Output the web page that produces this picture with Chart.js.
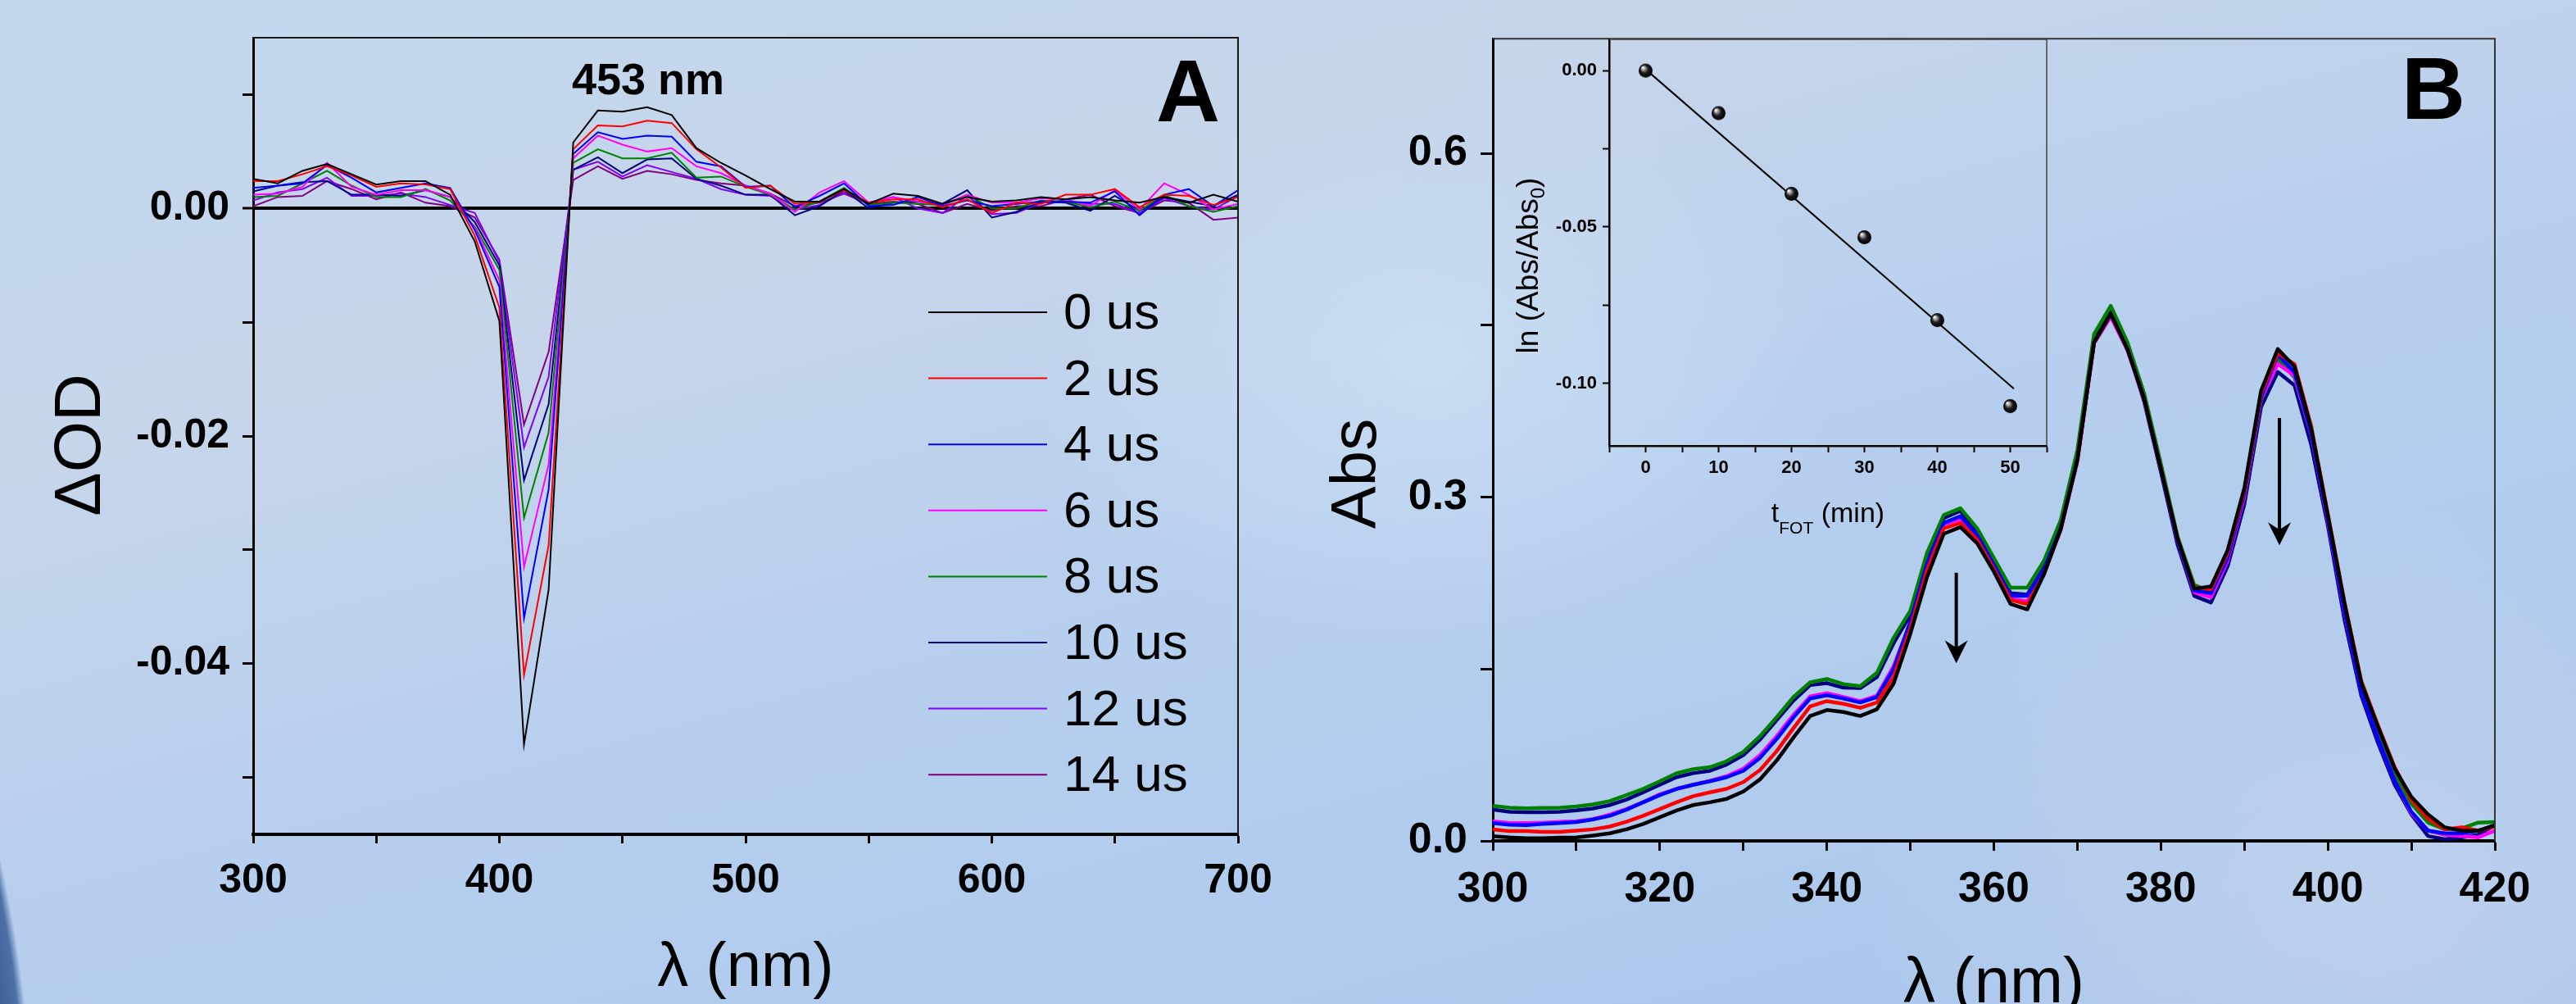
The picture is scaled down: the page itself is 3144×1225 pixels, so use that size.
<!DOCTYPE html>
<html>
<head>
<meta charset="utf-8">
<title>Transient absorption and photolysis spectra</title>
<script src="https://cdn.jsdelivr.net/npm/chart.js@4.4.1/dist/chart.umd.min.js"></script>
<style>
    html, body { margin: 0; padding: 0; }
    body {
        width: 3144px; height: 1225px; overflow: hidden; position: relative;
        background:
            radial-gradient(ellipse 700px 500px at 1750px 450px, rgba(210, 230, 248, 0.55), rgba(210, 230, 248, 0) 70%),
            radial-gradient(ellipse 900px 700px at 2900px 1100px, rgba(200, 214, 236, 0.6), rgba(200, 214, 236, 0) 70%),
            linear-gradient(165deg, #c2d8ef 0%, #c6d5ea 28%, #b6cfee 55%, #a8c6ec 100%);
    }
    /* dark curved edge in the lower left corner of the backdrop */
    .arc {
        position: absolute; left: -3160px; top: -200px; width: 3200px; height: 3200px;
        border-radius: 50%;
        background: radial-gradient(circle closest-side, #2f5288 97%, #4d70a6 99.4%, rgba(77, 112, 166, 0) 100%);
        clip-path: inset(1240px 0 0 0);
    }
    canvas { position: absolute; }
    #chartA { left: 0; top: 0; }
    #chartB { left: 1570px; top: 0; }
    #inset { left: 1830px; top: 20px; }
</style>
</head>
<body>
<div class="arc"></div>
<canvas id="chartA" width="1570" height="1225"></canvas>
<canvas id="chartB" width="1574" height="1225"></canvas>
<canvas id="inset" width="700" height="680"></canvas>
<script>
// ---- Panel A: transient absorption (delta OD), every 10 nm from 300 to 700 ----
const range = (a, b, step) => { const r = []; for (let v = a; v <= b + 1e-9; v += step) r.push(v); return r; };
const wavelengthA = range(300, 700, 10);
const timeLabels = ['0 us', '2 us', '4 us', '6 us', '8 us', '10 us', '12 us', '14 us'];
const colorsA = ['#000000', '#ff0000', '#0000ff', '#ff00ff', '#008000', '#000080', '#8000ff', '#800080'];

const od0 = [0.0026, 0.0022, 0.0033, 0.0039, 0.0030, 0.0021, 0.0024, 0.0024, 0.0012, -0.0029, -0.0099, -0.0471, -0.0335, 0.0058, 0.0086, 0.0085, 0.0089, 0.0082, 0.0053, 0.0040, 0.0029, 0.0017, 0.0006, 0.0006, 0.0017, 0.0004, 0.0013, 0.0011, 0.0004, 0.0010, 0.0006, 0.0007, 0.0010, 0.0008, 0.0010, 0.0007, 0.0005, 0.0010, 0.0005, 0.0012, 0.0006];
const od2 = [0.0024, 0.0024, 0.0030, 0.0037, 0.0029, 0.0019, 0.0022, 0.0021, 0.0017, -0.0024, -0.0087, -0.0410, -0.0296, 0.0052, 0.0073, 0.0072, 0.0077, 0.0075, 0.0052, 0.0036, 0.0018, 0.0020, 0.0004, 0.0006, 0.0016, 0.0005, 0.0008, 0.0008, 0.0001, 0.0008, -0.0004, 0.0005, 0.0004, 0.0012, 0.0012, 0.0017, 0.0001, 0.0012, 0.0011, 0.0003, 0.0010];
const od4 = [0.0018, 0.0020, 0.0022, 0.0038, 0.0027, 0.0014, 0.0018, 0.0022, 0.0018, -0.0019, -0.0069, -0.0360, -0.0247, 0.0048, 0.0067, 0.0061, 0.0064, 0.0063, 0.0041, 0.0037, 0.0019, 0.0020, 0.0001, 0.0011, 0.0022, 0.0002, 0.0003, 0.0010, 0.0002, 0.0007, 0.0002, 0.0004, 0.0006, 0.0006, 0.0005, 0.0015, -0.0006, 0.0012, 0.0017, 0.0002, 0.0016];
const od6 = [0.0012, 0.0013, 0.0019, 0.0040, 0.0019, 0.0012, 0.0016, 0.0016, 0.0010, -0.0017, -0.0063, -0.0315, -0.0225, 0.0044, 0.0064, 0.0056, 0.0050, 0.0053, 0.0037, 0.0031, 0.0020, 0.0013, -0.0003, 0.0014, 0.0024, 0.0005, 0.0010, 0.0006, 0.0003, 0.0012, 0.0005, 0.0005, 0.0009, 0.0008, 0.0002, 0.0016, -0.0001, 0.0022, 0.0012, -0.0001, 0.0004];
const od8 = [0.0010, 0.0011, 0.0022, 0.0033, 0.0020, 0.0010, 0.0010, 0.0017, 0.0007, -0.0016, -0.0054, -0.0272, -0.0197, 0.0040, 0.0052, 0.0044, 0.0044, 0.0049, 0.0027, 0.0028, 0.0019, 0.0012, -0.0001, 0.0006, 0.0018, 0.0003, 0.0005, 0.0004, 0.0003, 0.0012, 0.0000, 0.0000, 0.0007, 0.0006, 0.0001, 0.0006, -0.0002, 0.0012, 0.0002, -0.0003, 0.0002];
const od10 = [0.0015, 0.0020, 0.0023, 0.0024, 0.0012, 0.0012, 0.0011, 0.0016, 0.0010, -0.0012, -0.0050, -0.0239, -0.0172, 0.0034, 0.0045, 0.0031, 0.0043, 0.0044, 0.0026, 0.0020, 0.0012, 0.0012, -0.0006, 0.0002, 0.0016, 0.0000, 0.0005, 0.0006, 0.0004, 0.0016, -0.0008, -0.0003, 0.0006, 0.0005, -0.0002, 0.0011, -0.0002, 0.0010, 0.0006, 0.0002, 0.0012];
const od12 = [0.0007, 0.0014, 0.0017, 0.0027, 0.0011, 0.0011, 0.0013, 0.0010, 0.0003, -0.0004, -0.0047, -0.0210, -0.0148, 0.0034, 0.0041, 0.0028, 0.0038, 0.0032, 0.0026, 0.0017, 0.0012, 0.0011, -0.0001, 0.0003, 0.0014, 0.0005, 0.0010, 0.0000, -0.0004, 0.0011, -0.0005, -0.0004, 0.0005, 0.0006, 0.0004, 0.0004, -0.0004, 0.0009, 0.0002, -0.0001, 0.0011];
const od14 = [0.0002, 0.0010, 0.0011, 0.0024, 0.0017, 0.0008, 0.0014, 0.0005, 0.0002, -0.0008, -0.0045, -0.0190, -0.0126, 0.0025, 0.0037, 0.0026, 0.0033, 0.0030, 0.0025, 0.0022, 0.0020, 0.0013, 0.0002, 0.0005, 0.0013, 0.0004, 0.0006, 0.0004, -0.0004, 0.0004, -0.0002, 0.0002, 0.0002, 0.0008, 0.0012, 0.0002, -0.0004, 0.0007, 0.0005, -0.0010, -0.0008];
const seriesA = [od0, od2, od4, od6, od8, od10, od12, od14];

const ticksAx = [300, 350, 400, 450, 500, 550, 600, 650, 700];
const ticksAy = [-0.05, -0.04, -0.03, -0.02, -0.01, 0, 0.01];
const labelsAy = { '-0.04': '-0.04', '-0.02': '-0.02', '0': '0.00' };

// ---- Panel B: absorption spectra, every 2 nm from 300 to 420 ----
const wavelengthB = range(300, 420, 2);
const colorsB = ['#000000', '#ff0000', '#0000ff', '#ff00ff', '#008000', '#000080'];
const absBlack = [0.0042, 0.0031, 0.0024, 0.0024, 0.0028, 0.0031, 0.0047, 0.0066, 0.0101, 0.0148, 0.0207, 0.0266, 0.0313, 0.0337, 0.0367, 0.0431, 0.0537, 0.0702, 0.0902, 0.1090, 0.1142, 0.1125, 0.1090, 0.1149, 0.1373, 0.1808, 0.2303, 0.2680, 0.2738, 0.2597, 0.2350, 0.2067, 0.2020, 0.2326, 0.2720, 0.3320, 0.4350, 0.4598, 0.4290, 0.3857, 0.3245, 0.2640, 0.2200, 0.2220, 0.2538, 0.3080, 0.3928, 0.4292, 0.4139, 0.3600, 0.2840, 0.2070, 0.1380, 0.0996, 0.0631, 0.0384, 0.0231, 0.0118, 0.0089, 0.0089, 0.0137];
const absRed = [0.0101, 0.0085, 0.0085, 0.0078, 0.0078, 0.0089, 0.0101, 0.0125, 0.0167, 0.0219, 0.0278, 0.0337, 0.0391, 0.0424, 0.0454, 0.0513, 0.0619, 0.0784, 0.0984, 0.1173, 0.1220, 0.1196, 0.1161, 0.1208, 0.1432, 0.1855, 0.2362, 0.2727, 0.2774, 0.2628, 0.2373, 0.2103, 0.2067, 0.2326, 0.2720, 0.3320, 0.4350, 0.4598, 0.4292, 0.3857, 0.3245, 0.2640, 0.2210, 0.2197, 0.2515, 0.3056, 0.3904, 0.4257, 0.4160, 0.3620, 0.2850, 0.2080, 0.1396, 0.1008, 0.0643, 0.0360, 0.0195, 0.0101, 0.0118, 0.0089, 0.0125];
const absBlue = [0.0155, 0.0141, 0.0137, 0.0148, 0.0155, 0.0165, 0.0188, 0.0219, 0.0273, 0.0337, 0.0400, 0.0454, 0.0490, 0.0520, 0.0556, 0.0612, 0.0725, 0.0890, 0.1078, 0.1243, 0.1271, 0.1243, 0.1208, 0.1255, 0.1500, 0.1914, 0.2420, 0.2774, 0.2833, 0.2668, 0.2409, 0.2138, 0.2138, 0.2370, 0.2730, 0.3330, 0.4351, 0.4598, 0.4292, 0.3857, 0.3245, 0.2620, 0.2185, 0.2162, 0.2468, 0.3033, 0.3869, 0.4245, 0.4090, 0.3560, 0.2800, 0.2000, 0.1302, 0.0890, 0.0525, 0.0254, 0.0089, 0.0066, 0.0066, 0.0089, 0.0137];
const absMagenta = [0.0172, 0.0155, 0.0155, 0.0160, 0.0167, 0.0172, 0.0190, 0.0230, 0.0278, 0.0337, 0.0407, 0.0454, 0.0490, 0.0525, 0.0565, 0.0630, 0.0749, 0.0914, 0.1100, 0.1260, 0.1290, 0.1255, 0.1220, 0.1267, 0.1526, 0.1903, 0.2409, 0.2762, 0.2809, 0.2656, 0.2397, 0.2114, 0.2091, 0.2350, 0.2710, 0.3315, 0.4340, 0.4575, 0.4280, 0.3850, 0.3245, 0.2620, 0.2170, 0.2126, 0.2444, 0.3009, 0.3857, 0.4163, 0.4060, 0.3550, 0.2790, 0.1990, 0.1302, 0.0890, 0.0525, 0.0243, 0.0089, 0.0054, 0.0042, 0.0031, 0.0089];
const absGreen = [0.0306, 0.0290, 0.0285, 0.0287, 0.0290, 0.0300, 0.0318, 0.0348, 0.0400, 0.0454, 0.0520, 0.0590, 0.0626, 0.0643, 0.0695, 0.0777, 0.0914, 0.1080, 0.1255, 0.1384, 0.1413, 0.1368, 0.1350, 0.1467, 0.1773, 0.2009, 0.2515, 0.2844, 0.2903, 0.2727, 0.2468, 0.2209, 0.2209, 0.2444, 0.2797, 0.3410, 0.4422, 0.4669, 0.4351, 0.3904, 0.3292, 0.2656, 0.2232, 0.2173, 0.2468, 0.3009, 0.3845, 0.4210, 0.4045, 0.3560, 0.2800, 0.2000, 0.1337, 0.0937, 0.0584, 0.0325, 0.0160, 0.0101, 0.0108, 0.0160, 0.0165];
const absNavy = [0.0273, 0.0254, 0.0250, 0.0250, 0.0254, 0.0266, 0.0283, 0.0313, 0.0360, 0.0424, 0.0490, 0.0556, 0.0591, 0.0612, 0.0666, 0.0749, 0.0885, 0.1055, 0.1224, 0.1360, 0.1377, 0.1337, 0.1333, 0.1430, 0.1726, 0.1973, 0.2479, 0.2816, 0.2880, 0.2703, 0.2444, 0.2162, 0.2150, 0.2385, 0.2750, 0.3362, 0.4375, 0.4622, 0.4304, 0.3833, 0.3221, 0.2585, 0.2138, 0.2080, 0.2397, 0.2938, 0.3786, 0.4092, 0.3975, 0.3457, 0.2750, 0.1926, 0.1267, 0.0855, 0.0490, 0.0231, 0.0042, 0.0014, 0.0031, 0.0054, 0.0137];
const seriesB = [absBlack, absRed, absBlue, absMagenta, absGreen, absNavy];

const ticksBx = [300, 310, 320, 330, 340, 350, 360, 370, 380, 390, 400, 410, 420];
const ticksBy = [0, 0.15, 0.3, 0.45, 0.6];
const labelsBy = { '0': '0.0', '0.3': '0.3', '0.6': '0.6' };

// arrows marking the decrease (wavelength, start Abs, tip Abs)
const arrowX = [355.5, 394.2];
const arrowFrom = [0.234, 0.369];
const arrowTo = [0.155, 0.258];

// ---- Inset: ln(Abs/Abs0) vs irradiation time ----
const tFot = [0, 10, 20, 30, 40, 50];
const lnRatio = [0.0, -0.0136, -0.0394, -0.0533, -0.0798, -0.1073];
const fitX = [0, 50.5];
const fitY = [0.0004, -0.1017];

const ticksIx = [-5, 0, 5, 10, 15, 20, 25, 30, 35, 40, 45, 50, 55];
const labelsIx = { '0': '0', '10': '10', '20': '20', '30': '30', '40': '40', '50': '50' };
const ticksIy = [-0.1, -0.075, -0.05, -0.025, 0];
const labelsIy = { '-0.1': '-0.10', '-0.05': '-0.05', '0': '0.00' };

const FONT = '"Liberation Sans", Arial, Helvetica, sans-serif';
const setTicks = values => scale => { scale.ticks = values.map(v => ({ value: v })); };
const pickLabel = table => v => table[String(v)] || '';

function drawFrame(chart, color, width) {
    const { ctx, chartArea: a } = chart;
    ctx.save();
    ctx.strokeStyle = color;
    ctx.lineWidth = width;
    ctx.beginPath();
    ctx.moveTo(a.left, a.top);
    ctx.lineTo(a.right, a.top);
    ctx.lineTo(a.right, a.bottom);
    ctx.stroke();
    ctx.restore();
}

function rotatedText(ctx, parts, x, y) {
    // parts: [text, font, shift] read bottom-to-top, centred on y, baseline at x
    ctx.save();
    ctx.translate(x, y);
    ctx.rotate(-Math.PI / 2);
    ctx.textBaseline = 'alphabetic';
    ctx.textAlign = 'left';
    let total = 0;
    parts.forEach(p => { ctx.font = p[1]; total += ctx.measureText(p[0]).width; });
    let cx = -total / 2;
    parts.forEach(p => { ctx.font = p[1]; ctx.fillText(p[0], cx, p[2]); cx += ctx.measureText(p[0]).width; });
    ctx.restore();
}

function flatText(ctx, parts, centerX, baseY) {
    ctx.save();
    ctx.textBaseline = 'alphabetic';
    ctx.textAlign = 'left';
    let total = 0;
    parts.forEach(p => { ctx.font = p[1]; total += ctx.measureText(p[0]).width; });
    let cx = centerX - total / 2;
    parts.forEach(p => { ctx.font = p[1]; ctx.fillText(p[0], cx, baseY + p[2]); cx += ctx.measureText(p[0]).width; });
    ctx.restore();
}

// ---------- Panel A ----------
const extrasA = {
    id: 'extrasA',
    afterDraw(chart) {
        const { ctx, chartArea: a } = chart;
        drawFrame(chart, '#1a1a1a', 2);
        ctx.save();
        ctx.fillStyle = '#000';
        // legend
        ctx.font = '62px ' + FONT;
        ctx.textBaseline = 'middle';
        timeLabels.forEach((lab, i) => {
            const y = 381 + i * 80.6;
            ctx.strokeStyle = colorsA[i];
            ctx.lineWidth = 2;
            ctx.beginPath(); ctx.moveTo(1133, y); ctx.lineTo(1278, y); ctx.stroke();
            ctx.fillText(lab, 1298, y + 3);
        });
        ctx.textBaseline = 'alphabetic';
        ctx.font = 'bold 54px ' + FONT;
        ctx.fillText('453 nm', 698, 115);
        ctx.font = 'bold 108px ' + FONT;
        ctx.fillText('A', 1411, 148);
        ctx.restore();
        rotatedText(ctx, [['\u0394OD', '80px ' + FONT, 0]], 122, 543);
        flatText(ctx, [['\u03bb (nm)', '76px ' + FONT, 0]], (a.left + a.right) / 2, 1203);
    }
};

const isZero = c => Math.abs(c.tick.value) < 1e-9;

new Chart(document.getElementById('chartA'), {
    type: 'line',
    data: {
        datasets: seriesA.map((s, i) => ({
            label: timeLabels[i],
            data: wavelengthA.map((x, j) => ({ x: x, y: s[j] })),
            borderColor: colorsA[i],
            borderWidth: 2,
            pointRadius: 0,
            tension: 0,
            fill: false
        }))
    },
    options: {
        responsive: false,
        animation: false,
        devicePixelRatio: 1,
        layout: { padding: { left: 0, right: 59, top: 45, bottom: 0 } },
        plugins: { legend: { display: false }, tooltip: { enabled: false } },
        scales: {
            x: {
                type: 'linear', min: 300, max: 700,
                afterFit: s => { s.height = 207; },
                afterBuildTicks: setTicks(ticksAx),
                ticks: {
                    autoSkip: false, maxRotation: 0, minRotation: 0, padding: 16,
                    color: '#000', font: { family: FONT, size: 50, weight: 'bold' },
                    callback: v => (v % 100 === 0 ? String(v) : '')
                },
                grid: { drawOnChartArea: false, drawTicks: true, tickLength: 11, tickWidth: 3, tickColor: '#000' },
                border: { display: true, color: '#000', width: 4 }
            },
            y: {
                type: 'linear', min: -0.055, max: 0.015,
                afterFit: s => { s.width = 309; },
                afterBuildTicks: setTicks(ticksAy),
                ticks: {
                    autoSkip: false, padding: 16,
                    color: '#000', font: { family: FONT, size: 50, weight: 'bold' },
                    callback: pickLabel(labelsAy)
                },
                grid: {
                    drawOnChartArea: true, drawTicks: true, tickLength: 13, tickWidth: 3, tickColor: '#000',
                    color: c => isZero(c) ? '#000' : 'rgba(0,0,0,0)',
                    lineWidth: c => isZero(c) ? 4 : 1
                },
                border: { display: true, color: '#000', width: 3 }
            }
        }
    },
    plugins: [extrasA]
});

// ---------- Panel B ----------
const extrasB = {
    id: 'extrasB',
    afterDraw(chart) {
        const { ctx, chartArea: a, scales } = chart;
        drawFrame(chart, '#333', 2);
        ctx.save();
        ctx.fillStyle = '#000';
        ctx.strokeStyle = '#000';
        // arrows
        arrowX.forEach((lam, i) => {
            const x = scales.x.getPixelForValue(lam);
            const y1 = scales.y.getPixelForValue(arrowFrom[i]);
            const y2 = scales.y.getPixelForValue(arrowTo[i]);
            ctx.lineWidth = 4;
            ctx.beginPath(); ctx.moveTo(x, y1); ctx.lineTo(x, y2 - 14); ctx.stroke();
            ctx.beginPath();
            ctx.moveTo(x, y2);
            ctx.lineTo(x - 14, y2 - 28);
            ctx.lineTo(x, y2 - 19);
            ctx.lineTo(x + 14, y2 - 28);
            ctx.closePath();
            ctx.fill();
        });
        ctx.font = 'bold 108px ' + FONT;
        ctx.fillText('B', 1361, 145);
        ctx.restore();
        rotatedText(ctx, [['Abs', '78px ' + FONT, 0]], 109, 578);
        flatText(ctx, [['\u03bb (nm)', '78px ' + FONT, 0]], (a.left + a.right) / 2, 1223);
    }
};

new Chart(document.getElementById('chartB'), {
    type: 'line',
    data: {
        datasets: seriesB.map((s, i) => ({
            data: wavelengthB.map((x, j) => ({ x: x, y: s[j] })),
            borderColor: colorsB[i],
            borderWidth: 4.5,
            borderJoinStyle: 'round',
            pointRadius: 0,
            tension: 0,
            fill: false
        }))
    },
    options: {
        responsive: false,
        animation: false,
        devicePixelRatio: 1,
        layout: { padding: { left: 0, right: 99, top: 35, bottom: 0 } },
        plugins: { legend: { display: false }, tooltip: { enabled: false } },
        scales: {
            x: {
                type: 'linear', min: 300, max: 420,
                afterFit: s => { s.height = 199; },
                afterBuildTicks: setTicks(ticksBx),
                ticks: {
                    autoSkip: false, maxRotation: 0, minRotation: 0, padding: 16,
                    color: '#000', font: { family: FONT, size: 52, weight: 'bold' },
                    callback: v => (v % 20 === 0 ? String(v) : '')
                },
                grid: { drawOnChartArea: false, drawTicks: true, tickLength: 12, tickWidth: 3, tickColor: '#000' },
                border: { display: true, color: '#000', width: 4 }
            },
            y: {
                type: 'linear', min: 0, max: 0.7,
                afterFit: s => { s.width = 252; },
                afterBuildTicks: setTicks(ticksBy),
                ticks: {
                    autoSkip: false, padding: 16,
                    color: '#000', font: { family: FONT, size: 52, weight: 'bold' },
                    callback: pickLabel(labelsBy)
                },
                grid: { drawOnChartArea: false, drawTicks: true, tickLength: 15, tickWidth: 3, tickColor: '#000' },
                border: { display: true, color: '#000', width: 3 }
            }
        }
    },
    plugins: [extrasB]
});

// ---------- Inset ----------
function makeSphere(r) {
    const c = document.createElement('canvas');
    c.width = c.height = 2 * r + 2;
    const g = c.getContext('2d');
    const grd = g.createRadialGradient(r * 0.7, r * 0.65, r * 0.05, r + 1, r + 1, r);
    grd.addColorStop(0, '#ffffff');
    grd.addColorStop(0.25, '#9a9a9a');
    grd.addColorStop(0.55, '#1c1c1c');
    grd.addColorStop(1, '#000000');
    g.fillStyle = grd;
    g.beginPath(); g.arc(r + 1, r + 1, r, 0, Math.PI * 2); g.fill();
    return c;
}

const extrasInset = {
    id: 'extrasInset',
    afterDraw(chart) {
        const { ctx, chartArea: a } = chart;
        drawFrame(chart, '#444', 1.5);
        ctx.fillStyle = '#000';
        rotatedText(ctx, [
            ['ln (Abs/Abs', '37px ' + FONT, 0],
            ['0', '24px ' + FONT, 8],
            [')', '37px ' + FONT, 0]
        ], 47, 304);
        flatText(ctx, [
            ['t', '34px ' + FONT, 0],
            ['FOT', '21px ' + FONT, 14],
            [' (min)', '34px ' + FONT, 0]
        ], (a.left + a.right) / 2, 617);
    }
};

new Chart(document.getElementById('inset'), {
    type: 'scatter',
    data: {
        datasets: [
            {
                type: 'line',
                data: fitX.map((x, i) => ({ x: x, y: fitY[i] })),
                borderColor: '#000', borderWidth: 2, pointRadius: 0, tension: 0, fill: false, order: 2
            },
            {
                data: tFot.map((x, i) => ({ x: x, y: lnRatio[i] })),
                pointStyle: makeSphere(8.5), pointRadius: 8.5, order: 1
            }
        ]
    },
    options: {
        responsive: false,
        animation: false,
        devicePixelRatio: 1,
        layout: { padding: { left: 0, right: 32, top: 28, bottom: 0 } },
        plugins: { legend: { display: false }, tooltip: { enabled: false } },
        scales: {
            x: {
                type: 'linear', min: -5, max: 55,
                afterFit: s => { s.height = 156; },
                afterBuildTicks: setTicks(ticksIx),
                ticks: {
                    autoSkip: false, maxRotation: 0, minRotation: 0, padding: 6,
                    color: '#000', font: { family: FONT, size: 22, weight: 'bold' },
                    callback: pickLabel(labelsIx)
                },
                grid: { drawOnChartArea: false, drawTicks: true, tickLength: 8, tickWidth: 2, tickColor: '#000' },
                border: { display: true, color: '#000', width: 2.5 }
            },
            y: {
                type: 'linear', min: -0.12, max: 0.01,
                afterFit: s => { s.width = 134; },
                afterBuildTicks: setTicks(ticksIy),
                ticks: {
                    autoSkip: false, padding: 7,
                    color: '#000', font: { family: FONT, size: 22, weight: 'bold' },
                    callback: pickLabel(labelsIy)
                },
                grid: { drawOnChartArea: false, drawTicks: true, tickLength: 8, tickWidth: 2, tickColor: '#000' },
                border: { display: true, color: '#000', width: 2.5 }
            }
        }
    },
    plugins: [extrasInset]
});
</script>
</body>
</html>
